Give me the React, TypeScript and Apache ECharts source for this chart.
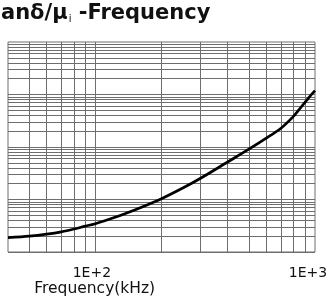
import React, { useEffect, useRef } from "react";
import * as echarts from "echarts";

const titleMain = "anδ/μ";
const titleSub = "i";
const titleTail = " -Frequency";
const xAxisTitle = "Frequency(kHz)";

const xTickValues = [100, 1000];
const xTickLabels = ["1E+2", "1E+3"];

const xMin = 40;
const xMax = 1000;
const yMin = 1e-6;
const yMax = 1e-2;

// grid line values (log grid)
const xGridValues = [50, 60, 70, 80, 90, 100, 200, 300, 400, 500, 600, 700, 800, 900];
const yDecades = [1e-6, 1e-5, 1e-4, 1e-3];
const yMultipliers = [1, 2, 3, 4, 5, 6, 7, 8, 9];

// curve
const frequency = [40, 50, 60, 70, 80, 90, 100, 120, 150, 200, 250, 300, 400, 500, 600, 700, 800, 850, 900, 950, 1000];
const tanDeltaOverMu = [
  1.88e-6, 2.009e-6, 2.193e-6, 2.425e-6, 2.742e-6, 3.113e-6, 3.444e-6, 4.423e-6, 6.255e-6, 1.036e-5,
  1.652e-5, 2.512e-5, 5.18e-5, 9.08e-5, 1.471e-4, 2.28e-4, 3.879e-4, 5.27e-4, 7.07e-4, 9.32e-4, 1.181e-3,
];

export default function App() {
  const ref = useRef<HTMLDivElement>(null);
  useEffect(() => {
    if (!ref.current) return;
    const chart = echarts.init(ref.current, null, { renderer: "svg" });
    const yGridValues: number[] = [];
    yDecades.forEach((d) => yMultipliers.forEach((m) => yGridValues.push(d * m)));
    const gridColor = "#6e6e6e";
    const markData: any[] = [
      ...xGridValues.map((v) => [{ coord: [v, yMin] }, { coord: [v, yMax] }]),
      ...yGridValues.map((v) => [{ coord: [xMin, v] }, { coord: [xMax, v] }]),
    ];
    chart.setOption({
      animation: false,
      grid: {
        left: 8,
        right: 15,
        top: 42,
        bottom: 54,
        show: true,
        borderColor: gridColor,
        borderWidth: 1,
        outerBoundsMode: "none",
        containLabel: false,
      },
      xAxis: {
        type: "log",
        logBase: 10,
        min: xMin,
        max: xMax,
        axisLine: { show: false },
        axisTick: { show: false },
        splitLine: { show: false },
        axisLabel: {
          show: true,
          margin: 13,
          showMinLabel: false,
          formatter: (v: number) => {
            const i = xTickValues.findIndex((t) => Math.abs(t - v) / t < 1e-6);
            if (i < 0) return "";
            return i === 0 ? `{a|${xTickLabels[i]}}` : `{b|${xTickLabels[i]}}`;
          },
          rich: {
            a: { fontFamily: "DejaVu Sans", fontSize: 14, color: "#111", padding: [0, 7, 0, 0] },
            b: { fontFamily: "DejaVu Sans", fontSize: 14, color: "#111", padding: [0, 14, 0, 0] },
          },
        },
      },
      yAxis: {
        type: "log",
        logBase: 10,
        min: yMin,
        max: yMax,
        axisLine: { show: false },
        axisTick: { show: false },
        axisLabel: { show: false },
        splitLine: { show: false },
      },
      graphic: [
        {
          type: "text",
          x: 1,
          y: 1.5,
          style: {
            text: `{t|${titleMain}}{s|${titleSub}}{t|${titleTail}}`,
            align: "left",
            verticalAlign: "top",
            rich: {
              t: { fontFamily: "DejaVu Sans", fontWeight: "bold", fontSize: 21, fill: "#111" },
              s: {
                fontFamily: "DejaVu Sans",
                fontWeight: "normal",
                fontSize: 10,
                fill: "#111",
                verticalAlign: "bottom",
                padding: [0, 0, -1, 1],
              },
            },
          },
        },
        {
          type: "text",
          x: 94.7,
          y: 288,
          style: {
            text: xAxisTitle,
            fontFamily: "DejaVu Sans",
            fontSize: 15.5,
            fill: "#111",
            align: "center",
            verticalAlign: "middle",
          },
        },
      ],
      series: [
        {
          type: "line",
          data: frequency.map((f, i) => [f, tanDeltaOverMu[i]]),
          smooth: 0.3,
          symbol: "none",
          lineStyle: { color: "#000", width: 2.7 },
          clip: true,
          z: 5,
          markLine: {
            silent: true,
            symbol: ["none", "none"],
            label: { show: false },
            lineStyle: { color: gridColor, width: 1, type: "solid" },
            emphasis: { disabled: true },
            data: markData,
          },
        },
      ],
    });
    return () => chart.dispose();
  }, []);
  return <div ref={ref} style={{ position: "fixed", left: 0, top: 0, width: 330, height: 306 }} />;
}
